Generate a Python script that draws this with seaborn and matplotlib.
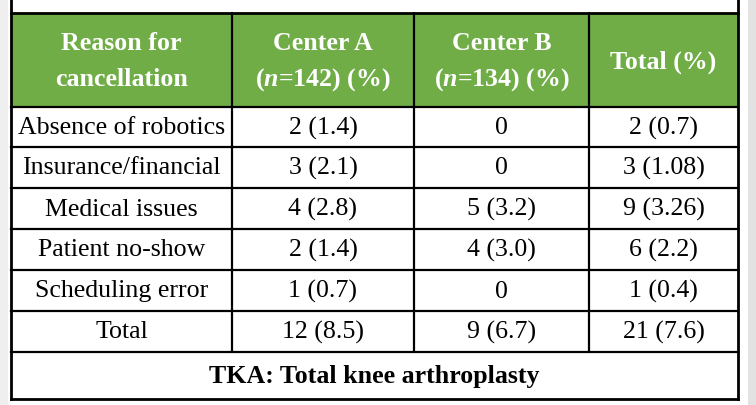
import matplotlib
matplotlib.use("Agg")
import matplotlib.pyplot as plt
from matplotlib.patches import Rectangle
import seaborn as sns
import pandas as pd

# ---- data ----
reasons = ["Absence of robotics", "Insurance/financial", "Medical issues",
           "Patient no-show", "Scheduling error", "Total"]
center_a = ["2 (1.4)", "3 (2.1)", "4 (2.8)", "2 (1.4)", "1 (0.7)", "12 (8.5)"]
center_b = ["0", "0", "5 (3.2)", "4 (3.0)", "0", "9 (6.7)"]
total = ["2 (0.7)", "3 (1.08)", "9 (3.26)", "6 (2.2)", "1 (0.4)", "21 (7.6)"]
header_lines = [["Reason for", "cancellation"],
                ["Center A", "($n$=142) (%)"],
                ["Center B", "($n$=134) (%)"],
                ["Total (%)"]]
footnote = "TKA: Total knee arthroplasty"

table = pd.DataFrame({"reason": reasons, "a": center_a, "b": center_b, "t": total})

sns.set_theme(style="white")
plt.rcParams["font.family"] = ["Liberation Serif", "DejaVu Serif"]
plt.rcParams["mathtext.fontset"] = "custom"
plt.rcParams["mathtext.rm"] = "Liberation Serif:bold"
plt.rcParams["mathtext.bf"] = "Liberation Serif:bold"
plt.rcParams["mathtext.it"] = "Liberation Serif:italic:bold"

W, H = 756, 405
fig = plt.figure(figsize=(W / 100, H / 100), dpi=100, facecolor="white")
ax = fig.add_axes([0, 0, 1, 1])
ax.set_xlim(0, W)
ax.set_ylim(H, 0)
ax.axis("off")

GREEN = "#70AD47"
FS = 18.6
col_x = [11, 232, 414, 589, 738]
row_y = [13, 107, 147, 188, 229, 270, 311, 352, 399]

# side strips
ax.add_patch(Rectangle((0, 0), 8, H, color="#efefef", lw=0, zorder=0))
ax.add_patch(Rectangle((748, 0), 8, H, color="#e2e2e2", lw=0, zorder=0))

# header background
ax.add_patch(Rectangle((col_x[0], row_y[0]), col_x[-1] - col_x[0],
                       row_y[1] - row_y[0], color=GREEN, lw=0, zorder=1))

# lines
LW = 1.6
for x in (col_x[0], col_x[-1]):
    ax.plot([x, x], [0, row_y[-1]], color="black", lw=2.0, zorder=3,
            solid_capstyle="projecting")
for x in col_x[1:-1]:
    ax.plot([x, x], [row_y[0], row_y[-2]], color="black", lw=LW, zorder=3)
for i, y in enumerate(row_y):
    lw = 2.0 if i in (0, len(row_y) - 1) else LW
    ax.plot([col_x[0], col_x[-1]], [y, y], color="black", lw=lw, zorder=3,
            solid_capstyle="projecting")

# header text
for j, lines in enumerate(header_lines):
    cx = (col_x[j] + col_x[j + 1]) / 2
    ys = [43, 80] if len(lines) == 2 else [62]
    for txt, yy in zip(lines, ys):
        ax.text(cx, yy, txt, ha="center", va="center", color="white",
                fontsize=FS, fontweight="bold", zorder=4)

# body text
cols = ["reason", "a", "b", "t"]
for i in range(len(table)):
    cy = (row_y[i + 1] + row_y[i + 2]) / 2 + 1
    for j, c in enumerate(cols):
        cx = (col_x[j] + col_x[j + 1]) / 2
        ax.text(cx, cy, table.iloc[i][c], ha="center", va="center",
                color="black", fontsize=FS, zorder=4)

# footnote
ax.text((col_x[0] + col_x[-1]) / 2, (row_y[-2] + row_y[-1]) / 2 + 1, footnote,
        ha="center", va="center", color="black", fontsize=FS,
        fontweight="bold", zorder=4)

fig.savefig("out.png", dpi=100, facecolor="white")
